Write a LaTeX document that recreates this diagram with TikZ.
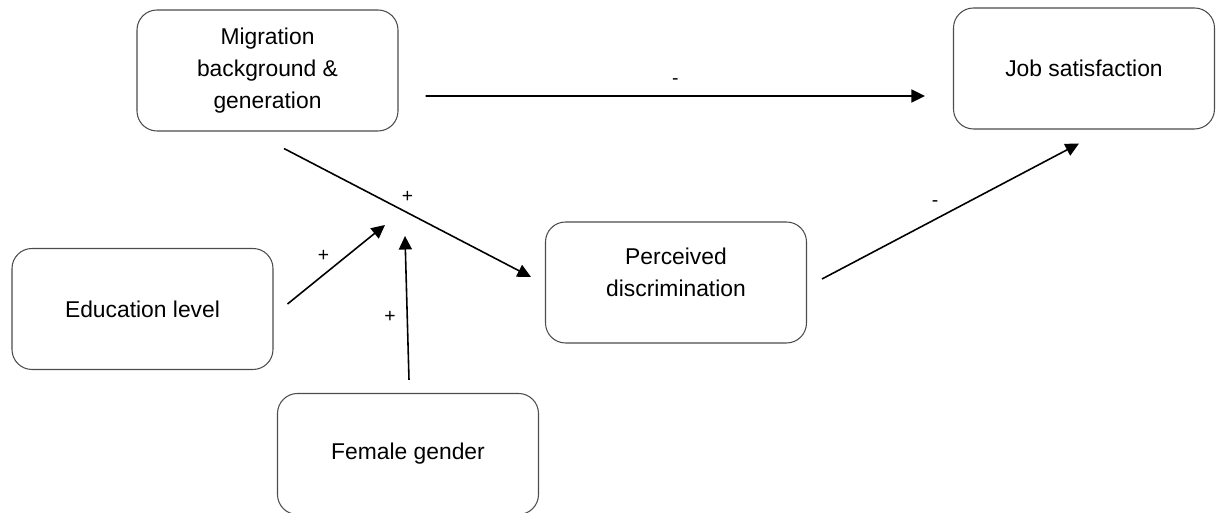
\documentclass[tikz,border=0pt]{standalone}
\usepackage{fontspec}
\setmainfont{Liberation Sans}
\usetikzlibrary{arrows.meta}

\begin{document}
\begin{tikzpicture}[
    factor/.style={draw=black!70, line width=0.6pt, rounded corners=0.4cm,
        minimum width=5.22cm, minimum height=2.42cm, inner sep=0pt,
        align=center, font=\fontsize{13}{18.4}\selectfont},
    factortext/.style={align=center, inner sep=0pt, font=\fontsize{13}{18.4}\selectfont},
    effect/.style={line width=0.9pt, -{Triangle[length=0.27cm,width=0.26cm]}},
    sign/.style={font=\fontsize{11}{13}\selectfont}
]
    \useasboundingbox (0,0) rectangle (24.32,10.26);

    \node[factor] (mig)  at (5.35,8.85)  {Migration\\background \&\\generation};
    \node[factor] (job)  at (21.68,8.89) {Job satisfaction};
    \node[factor] (perc) at (13.52,4.61) {};
    \node[factortext] (perctext) at ([yshift=0.2cm]perc.center) {Perceived\\discrimination};
    \node[factor] (edu)  at (2.85,4.08)  {Education level};
    \node[factor] (fem)  at (8.16,1.18)  {Female gender};

    \coordinate (edutip) at (7.70,5.76);
    \coordinate (femtip) at (8.10,5.54);

    \draw[effect] ([shift={(0.54,-0.51)}]mig.east) -- node[sign, above=0.09cm] {-} ([shift={(-0.56,-0.55)}]job.west);
    \draw[effect] ([shift={(0.33,-0.34)}]mig.south) -- node[sign, above=0.08cm] {+} ([shift={(-0.28,0.11)}]perc.west);
    \draw[effect] ([shift={(0.28,0.10)}]edu.east) -- node[sign, pos=0.37, above=0.14cm] {+} (edutip);
    \draw[effect] ([shift={(0.02,0.26)}]fem.north) -- node[sign, pos=0.44, left=0.1cm] {+} (femtip);
    \draw[effect] ([shift={(0.30,0.07)}]perc.east) -- node[sign, pos=0.44, above=0.12cm] {-} ([shift={(-0.10,-0.28)}]job.south);
\end{tikzpicture}
\end{document}
